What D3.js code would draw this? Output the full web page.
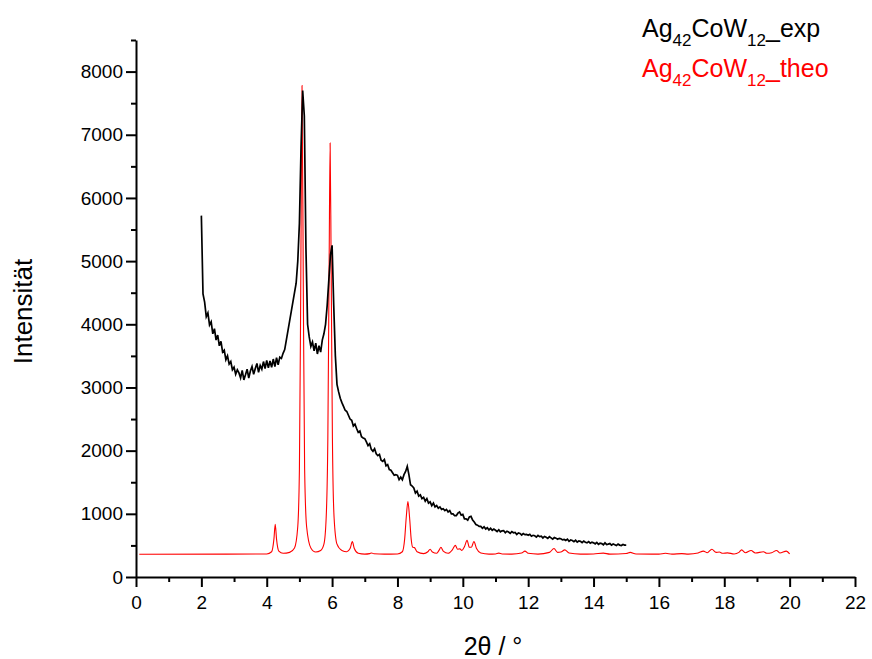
<!DOCTYPE html>
<html>
<head>
<meta charset="utf-8">
<script src="https://cdn.jsdelivr.net/npm/d3@7"></script>
<style>
  body { margin: 0; background: #fff; }
  svg { font-family: "Liberation Sans", Arial, sans-serif; }
</style>
</head>
<body>
<div id="chart-area"></div>
<script>
// experimental pattern: 2theta from 2.00 to 15.00, step 0.05 (one row per degree)
const expStart = 2.0, expStep = 0.05;
const expIntensity = [
    5720, 4480, 4350, 4120, 4180, 3990, 4040, 3850, 3930, 3750, 3830, 3660, 3730, 3560, 3590, 3440, 3500, 3370, 3410, 3280,
    3320, 3210, 3280, 3230, 3150, 3270, 3120, 3200, 3290, 3150, 3260, 3330, 3210, 3300, 3380, 3240, 3350, 3290, 3410, 3300,
    3430, 3310, 3420, 3320, 3450, 3330, 3470, 3360, 3480, 3460, 3540, 3600, 3750, 3900, 4050, 4200, 4350, 4500, 4650, 5000,
    5600, 6800, 7700, 7300, 5200, 4000, 3800, 3650, 3720, 3580, 3700, 3530, 3660, 3560, 3750, 3850, 4000, 4300, 4700, 5100,
    5250, 4300, 3500, 3050, 2930, 2830, 2760, 2700, 2640, 2620, 2560, 2500, 2480, 2390, 2420, 2350, 2290, 2310, 2220, 2200,
    2190, 2140, 2080, 2110, 2020, 1990, 2030, 1950, 1920, 1940, 1850, 1830, 1860, 1760, 1780, 1700, 1690, 1650, 1610, 1620,
    1610, 1540, 1580, 1540, 1620, 1670, 1750, 1620, 1460, 1440, 1410, 1330, 1360, 1280, 1300, 1240, 1260, 1200, 1240, 1170,
    1190, 1130, 1170, 1110, 1130, 1090, 1110, 1070, 1080, 1050, 1070, 1030, 1050, 1000, 1000, 970, 970, 1010, 1030, 980,
    990, 920, 920, 900, 950, 960, 900, 870, 830, 820, 800, 800, 770, 795, 760, 780, 745, 770, 740, 760,
    740, 720, 748, 715, 730, 735, 700, 725, 712, 690, 718, 700, 705, 672, 698, 690, 665, 688, 670, 675,
    660, 675, 645, 660, 652, 632, 660, 640, 645, 618, 642, 630, 612, 638, 620, 600, 625, 615, 598, 612,
    605, 588, 595, 580, 600, 565, 585, 578, 560, 582, 552, 570, 565, 545, 568, 550, 540, 560, 535, 550,
    540, 525, 548, 518, 535, 528, 510, 540, 512, 520, 530, 505, 522, 512, 498, 520, 505, 498, 515, 505,
    505
];

const theoPoints = [
    [0.1, 360], [4.0, 365], [4.15, 400], [4.22, 600], [4.26, 835], [4.30, 600], [4.37, 410], [4.5, 375],
    [4.7, 390], [4.85, 460], [4.95, 800], [5.0, 1700], [5.04, 4500], [5.08, 7780], [5.12, 4500], [5.16, 1700],
    [5.22, 800], [5.35, 460], [5.5, 395], [5.65, 420], [5.75, 520], [5.82, 950], [5.87, 2200], [5.91, 5000],
    [5.94, 6870], [5.97, 5000], [6.01, 2200], [6.06, 950], [6.15, 520], [6.3, 420], [6.45, 400], [6.55, 450],
    [6.62, 560], [6.68, 450], [6.8, 375], [7.0, 362], [7.15, 370], [7.21, 380], [7.28, 368], [7.6, 362],
    [8.0, 365], [8.15, 400], [8.22, 600], [8.27, 950], [8.32, 1193], [8.37, 950], [8.42, 600], [8.47, 470],
    [8.52, 465], [8.6, 400], [8.8, 370], [8.93, 400], [9.0, 440], [9.07, 395], [9.2, 375], [9.28, 430],
    [9.33, 470], [9.4, 410], [9.55, 375], [9.68, 430], [9.77, 500], [9.84, 440], [9.91, 445], [9.97, 420],
    [10.05, 480], [10.13, 580], [10.2, 470], [10.26, 470], [10.34, 560], [10.42, 450], [10.55, 380], [10.8, 362],
    [11.0, 365], [11.1, 378], [11.2, 365], [11.5, 362], [11.8, 380], [11.9, 410], [12.0, 375], [12.3, 362],
    [12.65, 390], [12.79, 450], [12.9, 390], [13.0, 395], [13.12, 430], [13.25, 380], [13.6, 362], [14.0, 365],
    [14.3, 378], [14.5, 362], [15.0, 372], [15.12, 390], [15.3, 365], [16.0, 362], [16.2, 375], [16.4, 362],
    [16.7, 370], [16.9, 362], [17.2, 380], [17.36, 410], [17.48, 385], [17.62, 440], [17.75, 390], [17.85, 395],
    [17.95, 375], [18.1, 382], [18.3, 365], [18.45, 390], [18.53, 430], [18.65, 385], [18.82, 420], [18.95, 380],
    [19.2, 400], [19.3, 375], [19.45, 385], [19.6, 420], [19.7, 380], [19.9, 410], [20.0, 365]
];

const xTicks = [0, 2, 4, 6, 8, 10, 12, 14, 16, 18, 20, 22];
const yTicks = [0, 1000, 2000, 3000, 4000, 5000, 6000, 7000, 8000];

const width = 872, height = 659;
const margin = { left: 136, right: 17, top: 40, bottom: 82 };

const svg = d3.select('#chart-area')
    .append('svg')
    .attr('width', width)
    .attr('height', height);

const x = d3.scaleLinear().domain([0, 22]).range([margin.left, width - margin.right]);
const y = d3.scaleLinear().domain([0, 8500]).range([height - margin.bottom, margin.top]);

const expData = expIntensity.map((v, i) => [expStart + i * expStep, v]);

const line = d3.line()
    .x(d => x(d[0]))
    .y(d => y(d[1]));

svg.append("path")
    .attr("d", line.curve(d3.curveMonotoneX)(theoPoints))
    .attr("fill", "none")
    .attr("stroke", "#ff0000")
    .attr("stroke-width", 1.1);

svg.append("path")
    .attr("d", line.curve(d3.curveLinear)(expData))
    .attr("fill", "none")
    .attr("stroke", "#000")
    .attr("stroke-width", 1.7);

// minor ticks first, then the major axes on top
const xMinor = d3.range(1, 22, 2);
const yMinor = d3.range(500, 8501, 1000);

svg.append("g")
    .attr("transform", `translate(0,${y(0)})`)
    .call(d3.axisBottom(x).tickValues(xMinor).tickSize(5).tickFormat(""))
    .call(g => g.select(".domain").remove())
    .selectAll("line").attr("stroke-width", 2);

svg.append("g")
    .attr("transform", `translate(${x(0)},0)`)
    .call(d3.axisLeft(y).tickValues(yMinor).tickSize(5).tickFormat(""))
    .call(g => g.select(".domain").remove())
    .selectAll("line").attr("stroke-width", 2);

const xAxis = svg.append("g")
    .attr("transform", `translate(0,${y(0)})`)
    .call(d3.axisBottom(x).tickValues(xTicks).tickFormat(d3.format("d"))
        .tickSize(10).tickPadding(9).tickSizeOuter(0));

const yAxis = svg.append("g")
    .attr("transform", `translate(${x(0)},0)`)
    .call(d3.axisLeft(y).tickValues(yTicks).tickFormat(d3.format("d"))
        .tickSize(10).tickPadding(3).tickSizeOuter(0));

[xAxis, yAxis].forEach(a => {
    a.select(".domain").attr("stroke-width", 2);
    a.selectAll(".tick line").attr("stroke-width", 2);
    a.selectAll("text")
        .attr("font-family", "Liberation Sans, Arial, sans-serif")
        .attr("font-size", 19)
        .attr("fill", "#000");
});

// axis titles
svg.append("text")
    .attr("x", 493)
    .attr("y", 655)
    .attr("text-anchor", "middle")
    .attr("font-size", 25)
    .text("2θ / °");

svg.append("text")
    .attr("transform", `translate(32,${(y(0) + y(8500)) / 2 + 3}) rotate(-90)`)
    .attr("text-anchor", "middle")
    .attr("font-size", 26)
    .text("Intensität");

// legend: coloured text only
const legend = [
    { name: "exp", color: "#000", y: 37 },
    { name: "theo", color: "#ff0000", y: 77 }
];

legend.forEach(l => {
    const t = svg.append("text")
        .attr("x", 642)
        .attr("y", l.y)
        .attr("font-size", 25)
        .attr("fill", l.color);
    t.append("tspan").text("Ag");
    t.append("tspan").attr("font-size", 17).attr("dy", 9).text("42");
    t.append("tspan").attr("dy", -9).text("CoW");
    t.append("tspan").attr("font-size", 17).attr("dy", 9).text("12");
    t.append("tspan").attr("dy", -9).text("_" + l.name);
});
</script>
</body>
</html>
